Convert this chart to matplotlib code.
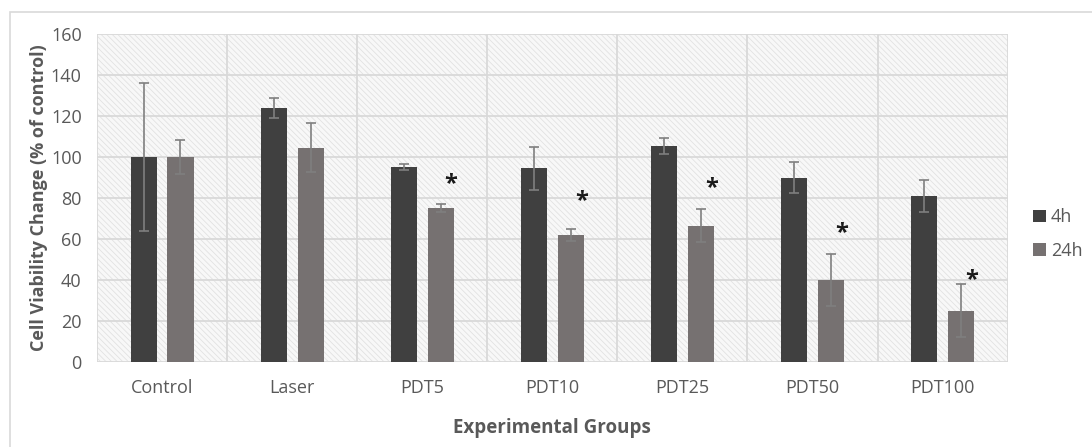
import matplotlib
matplotlib.use('Agg')
import matplotlib.pyplot as plt
from matplotlib.patches import Rectangle
import numpy as np

groups = ['Control', 'Laser', 'PDT5', 'PDT10', 'PDT25', 'PDT50', 'PDT100']
vals_4h = [100, 124, 95, 94.5, 105.5, 90, 81]
err_4h = [36, 5, 1.5, 10.5, 4, 7.5, 8]
vals_24h = [100, 104.5, 75, 62, 66.5, 40, 25]
err_24h = [8.5, 12, 2, 3, 8, 12.5, 13]
# asterisk heights (None = no mark)
star_24h = [None, None, 87, 78.5, 85, 63, 40]

plt.rcParams['font.family'] = ['Open Sans', 'DejaVu Sans']
plt.rcParams['hatch.linewidth'] = 0.6

fig = plt.figure(figsize=(10.92, 4.47), dpi=100)
ax = fig.add_axes([0.0888, 0.19, 0.834, 0.734])

# frame round the chart (right and bottom edges fall off the picture)
fig.patches.append(Rectangle((0.009, -0.05), 1.05, 1.023, transform=fig.transFigure,
                             fill=False, edgecolor='#d9d9d9', linewidth=1.2))

x = np.arange(len(groups))
w = 0.2
off = 0.142

ax.set_xlim(-0.5, len(groups) - 0.5)
ax.set_ylim(0, 160)

# hatched background
ax.add_patch(Rectangle((0, 0), 1, 1, transform=ax.transAxes, facecolor='#f8f8f8',
                       edgecolor='#e2e2e2', hatch='\\\\\\\\\\\\', linewidth=0, zorder=0))

for yv in range(0, 161, 20):
    ax.axhline(yv, color='#d9d9d9', linewidth=1.3, zorder=1)
for xv in np.arange(-0.5, len(groups), 1):
    ax.axvline(xv, color='#d9d9d9', linewidth=1.3, zorder=1)

ek = dict(ecolor='#7f7f7f', elinewidth=1.2, capsize=3.5, capthick=1.2)
ax.bar(x - off, vals_4h, w, yerr=err_4h, color='#404040', label='4h', zorder=3, error_kw=ek)
ax.bar(x + off, vals_24h, w, yerr=err_24h, color='#767171', label='24h', zorder=3, error_kw=ek)

for i, s in enumerate(star_24h):
    if s is not None:
        ax.text(x[i] + off + 0.08, s, '*', fontsize=17, fontweight='bold',
                ha='center', va='center', color='#1a1a1a', zorder=4)

for sp in ax.spines.values():
    sp.set_visible(False)
ax.set_xticks(x)
ax.set_xticklabels(groups, fontsize=13, color='#595959')
ax.set_yticks(range(0, 161, 20))
ax.tick_params(axis='y', labelsize=13, colors='#595959', length=0, pad=11)
ax.tick_params(axis='x', length=0, pad=12)

ax.set_xlabel('Experimental Groups', fontsize=13.5, fontweight='bold', color='#595959', labelpad=15)
ax.set_ylabel('Cell Viability Change (% of control)', fontsize=13, fontweight='bold',
              color='#595959', labelpad=2)

ax.legend(loc='center left', bbox_to_anchor=(1.01, 0.39), frameon=False, fontsize=13,
          handlelength=0.7, handleheight=0.7, handletextpad=0.3, labelspacing=0.85,
          labelcolor='#595959')

fig.savefig('out.png', dpi=100)
